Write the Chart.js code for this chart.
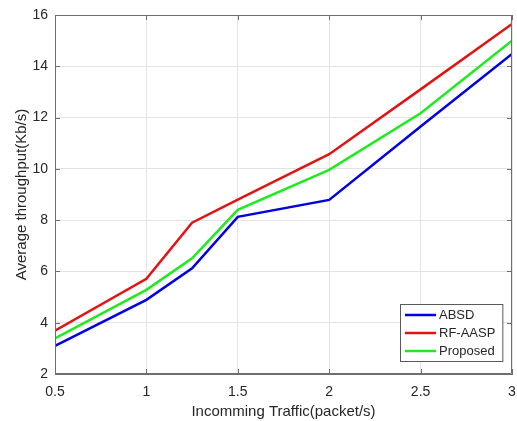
<!DOCTYPE html>
<html lang="en">
<head>
  <meta charset="UTF-8" />
  <title>Average throughput vs Incomming Traffic</title>
  <script src="https://cdn.jsdelivr.net/npm/chart.js"></script>
  <style>
    html, body { margin: 0; padding: 0; background: #fff; }
    canvas { display: block; }
  </style>
</head>
<body>
  <canvas id="chart" width="517" height="421"></canvas>

  <script>
    // data
    const trafficX = [0.5, 1, 1.25, 1.5, 2, 2.5, 3];
    const absd     = [3.10, 4.89, 6.12, 8.13, 8.79, 11.65, 14.48];
    const rfAasp   = [3.69, 5.71, 7.90, 8.80, 10.57, 13.10, 15.65];
    const proposed = [3.39, 5.28, 6.51, 8.40, 9.96, 12.17, 15.00];

    const xTicks = [0.5, 1, 1.5, 2, 2.5, 3];
    const yTicks = [2, 4, 6, 8, 10, 12, 14, 16];

    const FONT = '"Liberation Sans", Arial, Helvetica, sans-serif';
    const TEXT = '#262626';
    const AXIS = '#6e6e6e';

    const toPoints = ys => trafficX.map((x, i) => ({ x: x, y: ys[i] }));

    // MATLAB-style box with inward ticks on all four sides
    const boxPlugin = {
      id: 'box',
      afterDatasetsDraw(chart) {
        const { ctx, chartArea: a, scales } = chart;
        ctx.save();
        ctx.strokeStyle = AXIS;
        ctx.lineWidth = 1;
        ctx.beginPath();
        ctx.rect(a.left + 0.5, a.top + 0.5, a.right - a.left - 1, a.bottom - a.top - 1);
        xTicks.forEach(v => {
          const px = Math.round(scales.x.getPixelForValue(v)) + 0.5;
          ctx.moveTo(px, a.bottom); ctx.lineTo(px, a.bottom - 5);
          ctx.moveTo(px, a.top); ctx.lineTo(px, a.top + 5);
        });
        yTicks.forEach(v => {
          const py = Math.round(scales.y.getPixelForValue(v)) + 0.5;
          ctx.moveTo(a.left, py); ctx.lineTo(a.left + 5, py);
          ctx.moveTo(a.right, py); ctx.lineTo(a.right - 5, py);
        });
        ctx.stroke();
        ctx.restore();
      }
    };

    // legend drawn inside the plot, bottom right
    const insideLegend = {
      id: 'insideLegend',
      afterDraw(chart) {
        const { ctx, chartArea: a } = chart;
        const sets = chart.data.datasets;
        ctx.save();
        ctx.font = '13px ' + FONT;
        const maxW = Math.max(...sets.map(d => ctx.measureText(d.label).width));
        const w = 40 + maxW + 6;
        const rowH = 18;
        const h = rowH * sets.length + 3;
        const x0 = Math.round(a.right - 10 - w);
        const y0 = Math.round(a.bottom - 13 - h);
        ctx.fillStyle = '#fff';
        ctx.fillRect(x0, y0, w, h);
        ctx.strokeStyle = '#5a5a5a';
        ctx.lineWidth = 1;
        ctx.strokeRect(x0 + 0.5, y0 + 0.5, w, h);
        sets.forEach((d, i) => {
          const cy = y0 + 11 + i * rowH;
          ctx.strokeStyle = d.borderColor;
          ctx.lineWidth = 2.5;
          ctx.beginPath();
          ctx.moveTo(x0 + 5, cy);
          ctx.lineTo(x0 + 36, cy);
          ctx.stroke();
          ctx.fillStyle = TEXT;
          ctx.textBaseline = 'middle';
          ctx.fillText(d.label, x0 + 39, cy + 0.5);
        });
        ctx.restore();
      }
    };

    new Chart(document.getElementById('chart'), {
      type: 'line',
      data: {
        datasets: [
          { label: 'ABSD', data: toPoints(absd), borderColor: 'rgb(0,0,225)' },
          { label: 'RF-AASP', data: toPoints(rfAasp), borderColor: 'rgb(225,20,20)' },
          { label: 'Proposed', data: toPoints(proposed), borderColor: 'rgb(30,235,30)' }
        ]
      },
      options: {
        responsive: false,
        animation: false,
        layout: { padding: { top: 15, right: 5, left: 0, bottom: 0 } },
        elements: {
          line: { borderWidth: 2.5, tension: 0, fill: false },
          point: { radius: 0 }
        },
        plugins: {
          legend: { display: false },
          tooltip: { enabled: false }
        },
        scales: {
          x: {
            type: 'linear',
            min: 0.5,
            max: 3,
            afterBuildTicks: s => { s.ticks = xTicks.map(v => ({ value: v })); },
            afterFit: s => { s.height = 47; s.paddingLeft = 0; s.paddingRight = 0; },
            grid: { color: '#e3e3e3', tickLength: 0, drawTicks: false },
            border: { display: true, color: AXIS },
            ticks: {
              color: TEXT, padding: 10, maxRotation: 0,
              font: { family: FONT, size: 14 },
              callback: v => String(v)
            },
            title: {
              display: true,
              text: 'Incomming Traffic(packet/s)',
              color: TEXT,
              font: { family: FONT, size: 15 },
              padding: { top: 0, bottom: 0 }
            }
          },
          y: {
            min: 2,
            max: 16,
            afterBuildTicks: s => { s.ticks = yTicks.map(v => ({ value: v })); },
            afterFit: s => { s.width = 55; s.paddingTop = 0; s.paddingBottom = 0; },
            grid: { color: '#e3e3e3', tickLength: 0, drawTicks: false },
            border: { display: true, color: AXIS },
            ticks: {
              color: TEXT, padding: 7,
              font: { family: FONT, size: 14 },
              callback: v => String(v)
            },
            title: {
              display: true,
              text: 'Average throughput(Kb/s)',
              color: TEXT,
              font: { family: FONT, size: 15 },
              padding: { top: 13, bottom: 0 }
            }
          }
        }
      },
      plugins: [boxPlugin, insideLegend]
    });
  </script>
</body>
</html>
